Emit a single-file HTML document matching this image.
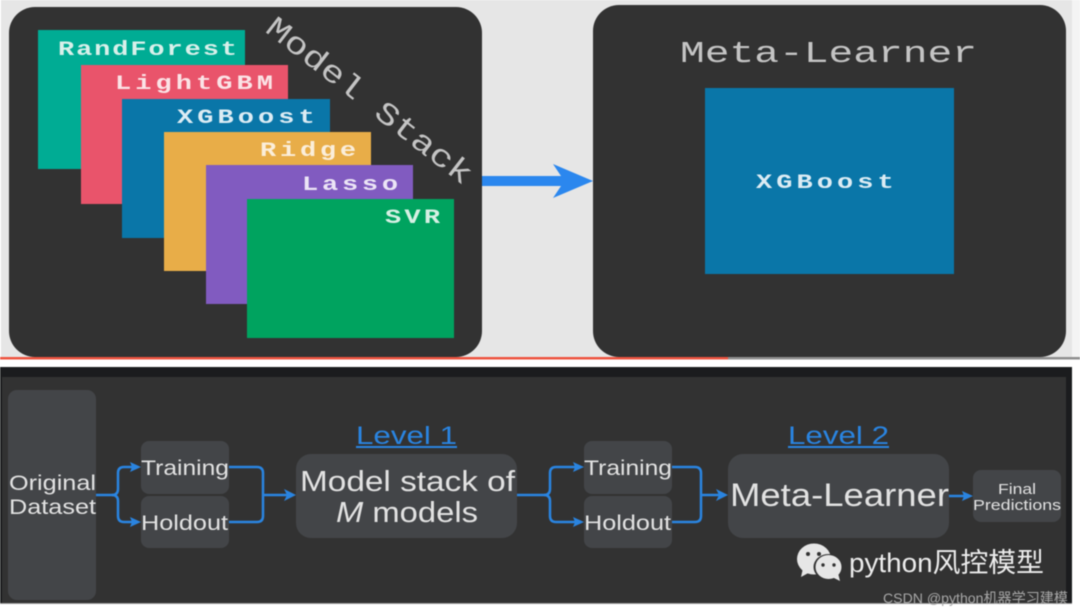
<!DOCTYPE html>
<html><head><meta charset="utf-8"><style>
html,body{margin:0;padding:0;background:#fff;width:1080px;height:613px;overflow:hidden}
svg{display:block;filter:blur(.45px)}
.m{font-family:"Liberation Mono",monospace;font-weight:bold;font-size:20px}
.t{font-family:"Liberation Mono",monospace;fill:#c4c4c4}
.s{font-family:"Liberation Sans",Arial,sans-serif;fill:#e2e2e2}
.l{font-family:"Liberation Sans",Arial,sans-serif;fill:#2a84e0;font-size:25px}
.c{fill:none;stroke:#2a84e0;stroke-width:2.5}
</style></head><body>
<svg width="1080" height="613" viewBox="0 0 1080 613" xmlns="http://www.w3.org/2000/svg">
<rect width="1080" height="613" fill="#fff"/>
<rect x="1" y="0" width="1071" height="357" fill="#e6e6e6"/>
<rect x="1072" y="0" width="8" height="357" fill="#f4f4f4"/>
<rect x="0" y="357" width="728" height="2.5" fill="#ee5440"/>
<rect x="728" y="357" width="352" height="2.5" fill="#8f8f8f"/>

<rect x="9" y="7" width="473" height="350" rx="26" fill="#323232"/>
<rect x="593" y="5" width="473" height="352" rx="26" fill="#323232"/>

<rect x="38" y="30" width="207" height="139" fill="#00ac94"/>
<rect x="81" y="65" width="207" height="139" fill="#e9546b"/>
<rect x="122" y="99" width="208" height="139" fill="#0a76a8"/>
<rect x="164" y="132" width="207" height="139" fill="#e8ad48"/>
<rect x="206" y="165" width="207" height="139" fill="#815bc0"/>
<rect x="247" y="199" width="207" height="139" fill="#00a35f"/>

<text class="m" transform="translate(58,55) scale(1.35,1)" letter-spacing="1.4" fill="#d8f0ea">RandForest</text>
<text class="m" transform="translate(115,89) scale(1.35,1)" letter-spacing="3" fill="#fbe3e6">LightGBM</text>
<text class="m" transform="translate(177,123) scale(1.35,1)" letter-spacing="3" fill="#dcecf4">XGBoost</text>
<text class="m" transform="translate(260,156) scale(1.35,1)" letter-spacing="2.8" fill="#fbeeda">Ridge</text>
<text class="m" transform="translate(302,190) scale(1.35,1)" letter-spacing="2.8" fill="#ece5f6">Lasso</text>
<text class="m" transform="translate(385,223) scale(1.35,1)" letter-spacing="2.4" fill="#d6f0e4">SVR</text>

<text class="t" transform="translate(264,31) rotate(37.8)" font-size="31" textLength="252" lengthAdjust="spacingAndGlyphs">Model Stack</text>
<text class="t" x="680" y="62" font-size="31" textLength="297" lengthAdjust="spacingAndGlyphs">Meta-Learner</text>

<rect x="705" y="88" width="249" height="186" fill="#0a76a8"/>
<text class="m" transform="translate(756,188) scale(1.35,1)" letter-spacing="3" fill="#dcecf4">XGBoost</text>

<path d="M482 176H561L553 164L593 181L553 198L561 186H482Z" fill="#2b87ee"/>

<!-- lower panel -->
<rect x="0" y="367" width="1072" height="236" fill="#1b1c1e"/>
<rect x="2" y="377" width="1064" height="226" fill="#323232"/>
<rect x="0" y="603" width="1072" height="1" fill="#9a9a9a"/>

<g fill="#434548">
<rect x="8" y="390" width="88" height="210" rx="9"/>
<rect x="141" y="441" width="88" height="53" rx="8"/>
<rect x="141" y="496" width="88" height="52" rx="8"/>
<rect x="296" y="454" width="221" height="84" rx="15"/>
<rect x="584" y="441" width="88" height="53" rx="8"/>
<rect x="584" y="496" width="88" height="52" rx="8"/>
<rect x="728" y="454" width="221" height="84" rx="15"/>
<rect x="973" y="470" width="88" height="52" rx="8"/>
</g>

<g class="c">
<path d="M96 495H112Q118 495 118 489V473Q118 467 124 467H134"/>
<path d="M112 495Q118 495 118 501V516Q118 522 124 522H134"/>
<path d="M229 467H257Q263 467 263 473V516Q263 522 257 522H229"/>
<path d="M263 495H288"/>
<path d="M517 495H544Q550 495 550 489V473Q550 467 556 467H577"/>
<path d="M544 495Q550 495 550 501V516Q550 522 556 522H577"/>
<path d="M672 467H695Q701 467 701 473V516Q701 522 695 522H672"/>
<path d="M701 495H720"/>
<path d="M949 496H966"/>
</g>
<g fill="#2a84e0">
<path d="M141 467L130 462L132 467L130 472Z"/>
<path d="M141 522L130 517L132 522L130 527Z"/>
<path d="M296 495L284 489L287 495L284 501Z"/>
<path d="M584 467L573 462L575 467L573 472Z"/>
<path d="M584 522L573 517L575 522L573 527Z"/>
<path d="M728 495L716 489L719 495L716 501Z"/>
<path d="M973 496L962 491L964 496L962 501Z"/>
</g>

<text class="s" x="9" y="490" font-size="21" textLength="87" lengthAdjust="spacingAndGlyphs">Original</text>
<text class="s" x="9" y="514" font-size="21" textLength="87" lengthAdjust="spacingAndGlyphs">Dataset</text>
<text class="s" x="141" y="475" font-size="21" textLength="88" lengthAdjust="spacingAndGlyphs">Training</text>
<text class="s" x="141" y="530" font-size="21" textLength="87" lengthAdjust="spacingAndGlyphs">Holdout</text>
<text class="s" x="300" y="491" font-size="29" textLength="215" lengthAdjust="spacingAndGlyphs">Model stack of</text>
<text class="s" x="336" y="522" font-size="29" textLength="142" lengthAdjust="spacingAndGlyphs"><tspan font-style="italic">M</tspan> models</text>
<text class="s" x="584" y="475" font-size="21" textLength="88" lengthAdjust="spacingAndGlyphs">Training</text>
<text class="s" x="584" y="530" font-size="21" textLength="87" lengthAdjust="spacingAndGlyphs">Holdout</text>
<text class="s" x="730" y="506" font-size="32" textLength="219" lengthAdjust="spacingAndGlyphs">Meta-Learner</text>
<text class="s" x="1017" y="494" font-size="15" text-anchor="middle" textLength="38" lengthAdjust="spacingAndGlyphs">Final</text>
<text class="s" x="973" y="510" font-size="15" textLength="88" lengthAdjust="spacingAndGlyphs">Predictions</text>

<text class="l" x="356" y="444" textLength="101" lengthAdjust="spacingAndGlyphs">Level 1</text>
<rect x="356" y="446" width="101" height="2" fill="#2a84e0"/>
<text class="l" x="788" y="444" textLength="101" lengthAdjust="spacingAndGlyphs">Level 2</text>
<rect x="788" y="446" width="101" height="2" fill="#2a84e0"/>

<!-- WeChat mark -->
<ellipse cx="814" cy="559" rx="17" ry="15.5" fill="#e6e6e6"/>
<path d="M803 568L801 577L812 571Z" fill="#e6e6e6"/>
<ellipse cx="828.5" cy="567" rx="15" ry="13" fill="#323232"/>
<ellipse cx="828.5" cy="567" rx="13" ry="12" fill="#e6e6e6"/>
<path d="M832 577L840 581L838 573Z" fill="#e6e6e6"/>
<circle cx="808" cy="554" r="2" fill="#323232"/><circle cx="819" cy="554" r="2" fill="#323232"/>
<circle cx="823" cy="565" r="1.7" fill="#323232"/><circle cx="834" cy="565" r="1.7" fill="#323232"/>
<text x="849" y="572" font-size="27" fill="#ececec" font-family="'Liberation Sans','Noto Sans CJK SC',sans-serif" textLength="195" lengthAdjust="spacingAndGlyphs">python风控模型</text>
<text x="883" y="603" font-size="14" fill="#a8a8a8" font-family="'Liberation Sans','Noto Sans CJK SC',sans-serif" textLength="185" lengthAdjust="spacingAndGlyphs">CSDN @python机器学习建模</text>
</svg>
</body></html>
